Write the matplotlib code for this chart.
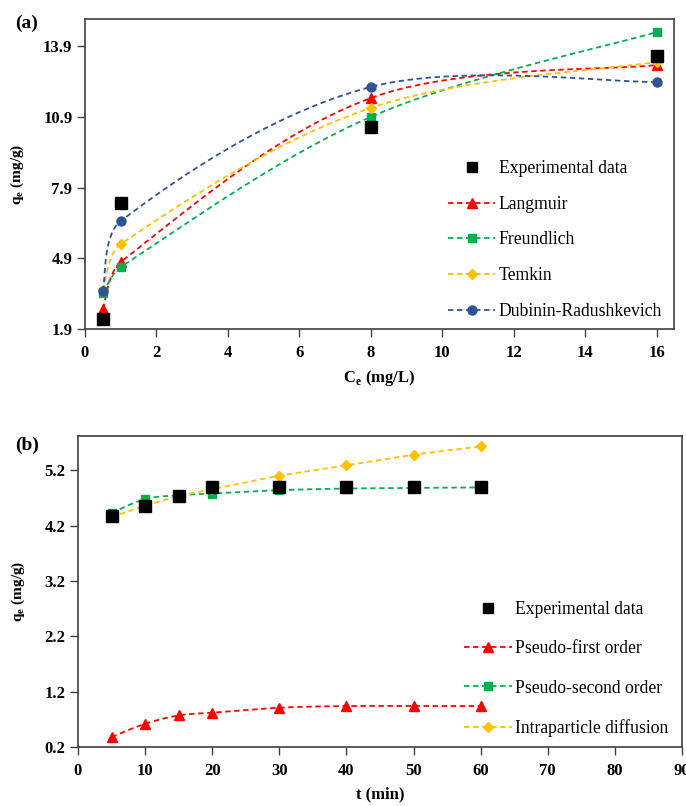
import matplotlib.pyplot as plt
import numpy as np
from matplotlib.lines import Line2D

plt.rcParams['font.family'] = ['Liberation Serif', 'DejaVu Serif']

# (a) isotherm data
ce = [0.5, 1, 8, 16]
qe_exp = [2.32, 7.25, 10.47, 13.48]
qe_langmuir = [2.75, 4.74, 11.70, 13.10]
qe_freundlich = [3.43, 4.53, 10.90, 14.50]
qe_temkin = [3.55, 5.50, 11.28, 13.23]
qe_dr = [3.50, 6.48, 12.17, 12.38]

# (b) kinetic data
t = [5, 10, 15, 20, 30, 40, 50, 60]
qt_exp = [4.37, 4.55, 4.74, 4.89, 4.89, 4.89, 4.89, 4.89]
qt_pfo = [0.38, 0.62, 0.77, 0.82, 0.91, 0.94, 0.94, 0.94]
qt_pso = [4.43, 4.68, 4.75, 4.78, 4.84, 4.87, 4.88, 4.89]
qt_ipd = [4.35, 4.56, 4.73, 4.86, 5.10, 5.29, 5.48, 5.63]

RED = '#FF0000'
GREEN = '#00B050'
ORANGE = '#FFC000'
BLUE = '#2F5496'
DASH = (0, (3, 2))


def smooth(x, y, sx, sy, n=40):
    # smoothed line through the points (cubic bezier, done in pixel space)
    p = np.column_stack([np.asarray(x, float) * sx, np.asarray(y, float) * sy])
    d = np.hypot(*np.diff(p, axis=0).T)
    out = []
    for i in range(len(p) - 1):
        p1, p2 = p[i], p[i + 1]
        if i > 0:
            c1 = p1 + (p2 - p[i - 1]) * d[i] / (d[i - 1] + d[i]) / 3
        else:
            c1 = p1 + (p2 - p1) / 6
        if i + 2 < len(p):
            c2 = p2 - (p[i + 2] - p1) * d[i] / (d[i] + d[i + 1]) / 3
        else:
            c2 = p2 - (p2 - p1) / 6
        s = np.linspace(0, 1, n)[:, None]
        seg = (1 - s) ** 3 * p1 + 3 * (1 - s) ** 2 * s * c1 + 3 * (1 - s) * s ** 2 * c2 + s ** 3 * p2
        out.append(seg)
    out = np.vstack(out)
    return out[:, 0] / sx, out[:, 1] / sy


def style_axes(ax):
    for sp in ax.spines.values():
        sp.set_color('#404040')
        sp.set_linewidth(1.2)
    ax.tick_params(direction='out', length=5.5, width=1, color='#404040', labelsize=12)
    ax.tick_params(axis='x', pad=6)
    for lab in ax.get_xticklabels() + ax.get_yticklabels():
        lab.set_fontweight('bold')


fig = plt.figure(figsize=(6.86, 8.06), dpi=100)

# ---- panel (a)
ax1 = fig.add_axes([0.1239, 0.5918, 0.8586, 0.3846])
sx1, sy1 = 35.75, 23.57
models_a = [
    ('Langmuir', qe_langmuir, RED, '^', 7),
    ('Freundlich', qe_freundlich, GREEN, 's', 6),
    ('Temkin', qe_temkin, ORANGE, 'D', 5),
    ('Dubinin-Radushkevich', qe_dr, BLUE, 'o', 6.5),
]
handles = [Line2D([], [], color='black', marker='s', markersize=7, linestyle='none')]
labels = ['Experimental data']
for name, vals, col, mk, ms in models_a:
    xs, ys = smooth(ce, vals, sx1, sy1)
    ax1.plot(xs, ys, color=col, linestyle=DASH, linewidth=1.3)
    ax1.plot(ce, vals, color=col, marker=mk, markersize=ms, linestyle='none')
    handles.append(Line2D([], [], color=col, linestyle=DASH, linewidth=1.3, marker=mk, markersize=ms))
    labels.append(name)
ax1.plot(ce, qe_exp, color='black', marker='s', markersize=8.5, linestyle='none', zorder=5)

ax1.set_xlim(0, 16.48)
ax1.set_ylim(1.9, 15.05)
ax1.set_xticks(np.arange(0, 17, 2))
ax1.set_yticks([1.9, 4.9, 7.9, 10.9, 13.9])
ax1.set_xlabel('C$_{\\mathregular{e}}$ (mg/L)', fontsize=12, fontweight='bold', labelpad=5)
ax1.set_ylabel('q$_{\\mathregular{e}}$ (mg/g)', fontsize=11, fontweight='bold')
ax1.yaxis.set_label_coords(-0.100, 0.5)
style_axes(ax1)
ax1.legend(handles, labels, loc='upper left', bbox_to_anchor=(0.616, 0.545), frameon=False,
           fontsize=12.7, labelspacing=1.06, handlelength=2.7, handletextpad=0.2,
           borderpad=0, borderaxespad=0)

# ---- panel (b)
ax2 = fig.add_axes([0.1137, 0.0732, 0.8805, 0.3859])
sx2, sy2 = 6.71, 55.3
models_b = [
    ('Pseudo-first order', qt_pfo, RED, '^', 7),
    ('Pseudo-second order', qt_pso, GREEN, 's', 6),
    ('Intraparticle diffusion', qt_ipd, ORANGE, 'D', 5),
]
handles = [Line2D([], [], color='black', marker='s', markersize=7, linestyle='none')]
labels = ['Experimental data']
for name, vals, col, mk, ms in models_b:
    xs, ys = smooth(t, vals, sx2, sy2)
    ax2.plot(xs, ys, color=col, linestyle=DASH, linewidth=1.3)
    ax2.plot(t, vals, color=col, marker=mk, markersize=ms, linestyle='none')
    handles.append(Line2D([], [], color=col, linestyle=DASH, linewidth=1.3, marker=mk, markersize=ms))
    labels.append(name)
ax2.plot(t, qt_exp, color='black', marker='s', markersize=8.5, linestyle='none', zorder=5)

ax2.set_xlim(0, 90)
ax2.set_ylim(0.2, 5.82)
ax2.set_xticks(np.arange(0, 91, 10))
ax2.set_yticks([0.2, 1.2, 2.2, 3.2, 4.2, 5.2])
ax2.set_xlabel('t (min)', fontsize=12, fontweight='bold', labelpad=5)
ax2.set_ylabel('q$_{\\mathregular{e}}$ (mg/g)', fontsize=11, fontweight='bold')
ax2.yaxis.set_label_coords(-0.085, 0.5)
style_axes(ax2)
ax2.legend(handles, labels, loc='upper left', bbox_to_anchor=(0.639, 0.469), frameon=False,
           fontsize=12.7, labelspacing=1.26, handlelength=2.7, handletextpad=0.2,
           borderpad=0, borderaxespad=0)

fig.text(0.022, 0.9715, '(a)', fontsize=14, fontweight='bold', va='center')
fig.text(0.022, 0.448, '(b)', fontsize=14, fontweight='bold', va='center')

fig.savefig('out.png', dpi=100)
